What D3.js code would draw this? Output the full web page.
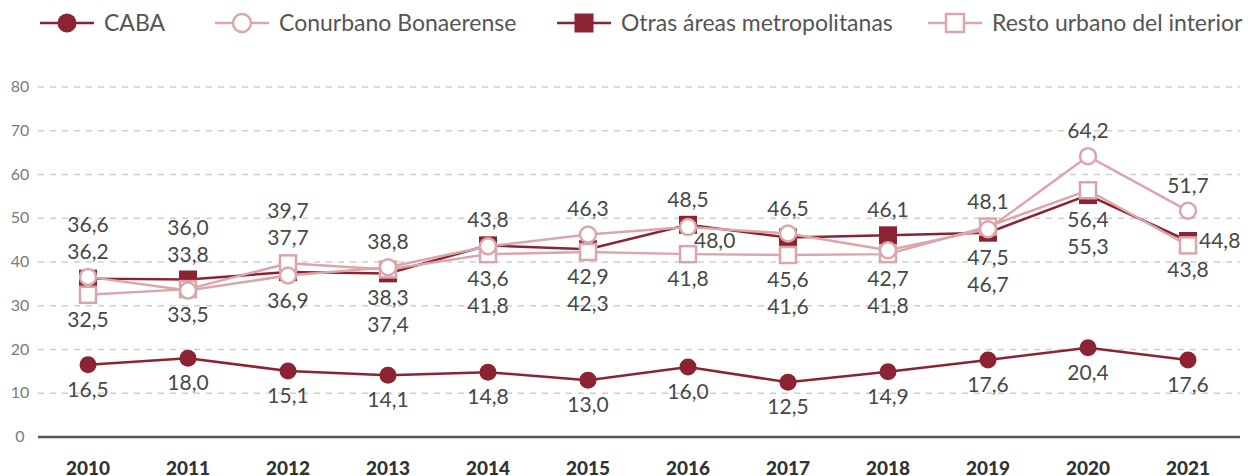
<!DOCTYPE html>
<html>
<head>
<meta charset="utf-8">
<script src="https://cdn.jsdelivr.net/npm/d3@7"></script>
<style>
  body { margin: 0; background: #fff; }
  text { font-family: Lato, "Open Sans", sans-serif; }
</style>
</head>
<body>
<svg id="chart" width="1248" height="476"></svg>
<script>
// data
const years = ["2010", "2011", "2012", "2013", "2014", "2015", "2016", "2017", "2018", "2019", "2020", "2021"];
const caba = [16.5, 18.0, 15.1, 14.1, 14.8, 13.0, 16.0, 12.5, 14.9, 17.6, 20.4, 17.6];
const conurbano = [36.6, 33.5, 36.9, 38.8, 43.6, 46.3, 48.0, 46.5, 42.7, 47.5, 64.2, 51.7];
const otras = [36.2, 36.0, 37.7, 37.4, 43.8, 42.9, 48.5, 45.6, 46.1, 46.7, 55.3, 44.8];
const resto = [32.5, 33.8, 39.7, 38.3, 41.8, 42.3, 41.8, 41.6, 41.8, 48.1, 56.4, 43.8];
const yTicks = [0, 10, 20, 30, 40, 50, 60, 70, 80];

// where the middle label of the upper group goes, per year
const midLabel = ["above", "above", "above", "below", "below", "below", "rightLow", "below", "below", "below", "below", "right"];

const dark = "#8b2332";
const light = "#dba6a9";

const series = [
  { name: "CABA", values: caba, color: dark, shape: "circle", filled: true },
  { name: "Conurbano Bonaerense", values: conurbano, color: light, shape: "circle", filled: false },
  { name: "Otras áreas metropolitanas", values: otras, color: dark, shape: "square", filled: true },
  { name: "Resto urbano del interior", values: resto, color: light, shape: "square", filled: false }
];

const svg = d3.select("#chart");
const x = d3.scalePoint().domain(years).range([88, 1188]);
const y = d3.scaleLinear().domain([0, 80]).range([437, 87]);

// gridlines
svg.append("g").selectAll("line")
  .data(yTicks.filter(d => d > 0))
  .join("line")
  .attr("x1", 38).attr("x2", 1240)
  .attr("y1", d => y(d)).attr("y2", d => y(d))
  .attr("stroke", "#cfcfcf")
  .attr("stroke-width", 1.5)
  .attr("stroke-dasharray", "6,6");

// y tick labels
svg.append("g").selectAll("text")
  .data(yTicks)
  .join("text")
  .attr("x", 20).attr("y", d => y(d) + 5)
  .attr("text-anchor", "middle")
  .attr("font-size", 16)
  .attr("fill", "#7a7a7a")
  .text(d => d);

// baseline
svg.append("line")
  .attr("x1", 38).attr("x2", 1240)
  .attr("y1", y(0)).attr("y2", y(0))
  .attr("stroke", "#555").attr("stroke-width", 2.5);

// year labels (cut by the bottom edge, as in the original)
svg.append("g").selectAll("text")
  .data(years)
  .join("text")
  .attr("x", d => x(d)).attr("y", 475)
  .attr("text-anchor", "middle")
  .attr("font-size", 19)
  .attr("font-weight", 900)
  .attr("fill", "#333")
  .text(d => d);

const line = d3.line().x((d, i) => x(years[i])).y(d => y(d));

function drawMarker(g, shape, filled, color, cx, cy, size) {
  if (shape === "circle") {
    g.append("circle")
      .attr("cx", cx).attr("cy", cy).attr("r", size / 2)
      .attr("fill", filled ? color : "#fff")
      .attr("stroke", color).attr("stroke-width", filled ? 0 : 2.5);
  } else {
    g.append("rect")
      .attr("x", cx - size / 2).attr("y", cy - size / 2)
      .attr("width", size).attr("height", size)
      .attr("fill", filled ? color : "#fff")
      .attr("stroke", color).attr("stroke-width", filled ? 0 : 2.5);
  }
}

// drawing order: CABA, Otras, Resto, Conurbano
const order = [0, 2, 3, 1];
order.forEach(k => {
  const s = series[k];
  const g = svg.append("g");
  g.append("path")
    .attr("d", line(s.values))
    .attr("fill", "none")
    .attr("stroke", s.color)
    .attr("stroke-width", 2.5);
  s.values.forEach((v, i) => {
    const size = s.shape === "circle" ? (s.filled ? 17 : 16) : (s.filled ? 18 : 16);
    drawMarker(g, s.shape, s.filled, s.color, x(years[i]), y(v), size);
  });
});

// value labels
const fmt = v => d3.format(".1f")(v).replace(".", ",");
const labels = svg.append("g")
  .attr("font-size", 21)
  .attr("fill", "#484848")
  .attr("text-anchor", "middle");

years.forEach((yr, i) => {
  const cx = x(yr);
  // CABA below its point
  labels.append("text").attr("x", cx).attr("y", y(caba[i]) + 32).text(fmt(caba[i]));

  const group = [conurbano[i], otras[i], resto[i]].sort((a, b) => b - a);
  const top = group[0], mid = group[1], low = group[2];
  const above = [top];
  const below = [];
  if (midLabel[i] === "above") above.push(mid);
  else if (midLabel[i] === "below") below.push(mid);
  below.push(low);

  // stack above labels upward from the highest point
  above.slice().reverse().forEach((v, j) => {
    labels.append("text").attr("x", cx).attr("y", y(top) - 18 - j * 27).text(fmt(v));
  });
  // stack below labels downward from the lowest point
  below.forEach((v, j) => {
    labels.append("text").attr("x", cx).attr("y", y(low) + 32 + j * 27).text(fmt(v));
  });
  if (midLabel[i] === "right") {
    labels.append("text").attr("text-anchor", "start")
      .attr("x", cx + 11).attr("y", y(mid) + 7).text(fmt(mid));
  } else if (midLabel[i] === "rightLow") {
    labels.append("text").attr("text-anchor", "start")
      .attr("x", cx + 6).attr("y", y(mid) + 21).text(fmt(mid));
  }
});

// legend
const legendX = [40, 215, 557, 928];
const legend = svg.append("g");
series.forEach((s, k) => {
  const lx = legendX[k];
  const ly = 23;
  legend.append("line")
    .attr("x1", lx).attr("x2", lx + 54)
    .attr("y1", ly).attr("y2", ly)
    .attr("stroke", s.color).attr("stroke-width", 2.5);
  drawMarker(legend, s.shape, s.filled, s.color, lx + 27, ly, s.filled ? 19 : 18);
  legend.append("text")
    .attr("x", lx + 64).attr("y", ly + 8)
    .attr("font-size", 23)
    .attr("fill", "#555")
    .text(s.name);
});
</script>
</body>
</html>
